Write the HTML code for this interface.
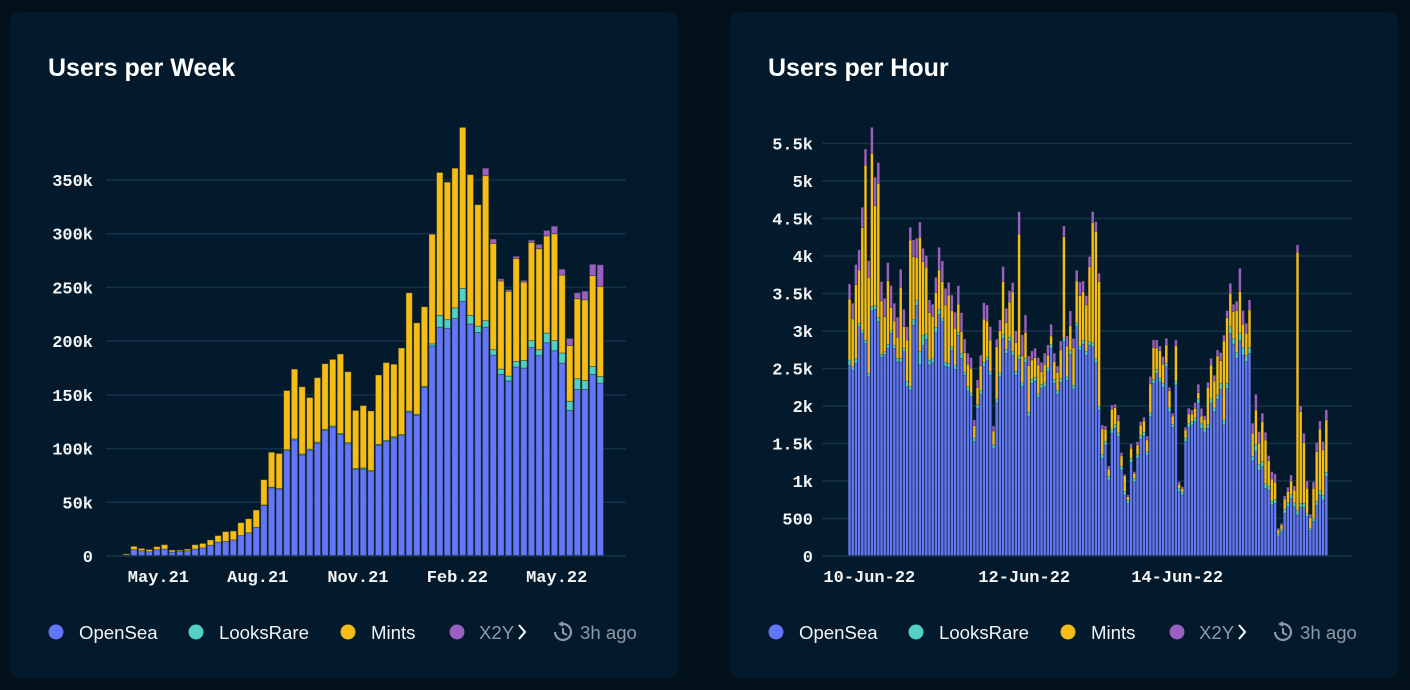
<!DOCTYPE html>
<html><head><meta charset="utf-8">
<style>
html,body{margin:0;padding:0;background:#03111b;width:1410px;height:690px;overflow:hidden;font-family:"Liberation Sans",sans-serif;}
svg text{font-family:"Liberation Sans",sans-serif;}
.tick{font-family:"Liberation Mono",monospace;font-weight:bold;font-size:17px;fill:#f2f4f6;}
.leg{font-size:18.6px;}
</style></head>
<body>
<svg id="root" width="1410" height="690">
  <rect x="10" y="12" width="668" height="666" rx="9" fill="#021a2b"/>
  <rect x="730" y="12" width="668" height="666" rx="9" fill="#021a2b"/>
  <text x="48" y="76" font-size="25" font-weight="bold" fill="#ffffff">Users per Week</text>
  <text x="768" y="76" font-size="25" font-weight="bold" fill="#ffffff">Users per Hour</text>
  <g id="leftChart"></g>
  <g id="rightChart"></g>

  <g>
    <g><circle cx="56" cy="632" r="7.5" fill="#6176f8"/><text class="leg" x="79" y="639" fill="#f2f4f6">OpenSea</text></g>
    <g><circle cx="196" cy="632" r="7.5" fill="#4fd1c5"/><text class="leg" x="219" y="639" fill="#f2f4f6">LooksRare</text></g>
    <g><circle cx="348" cy="632" r="7.5" fill="#f6bd16"/><text class="leg" x="371" y="639" fill="#f2f4f6">Mints</text></g>
    <g><circle cx="457" cy="632" r="7.5" fill="#9a5fc0"/><text class="leg" x="479" y="639" fill="#8e9aa6">X2Y</text></g>
    <path d="M519 625 L525 632 L519 639" stroke="#ffffff" stroke-width="2" fill="none"/>
    <g><path d="M563 624 A8 8 0 1 1 555 632" stroke="#8e9aa6" stroke-width="2.2" fill="none"/><path d="M558 624 L563 621 L563 627" fill="#8e9aa6"/><path d="M563 628 L563 633 L567 635" stroke="#8e9aa6" stroke-width="2" fill="none"/></g>
    <text class="leg" x="580" y="639" fill="#8e9aa6">3h ago</text>
  </g>
  <g>
    <g><circle cx="776" cy="632" r="7.5" fill="#6176f8"/><text class="leg" x="799" y="639" fill="#f2f4f6">OpenSea</text></g>
    <g><circle cx="916" cy="632" r="7.5" fill="#4fd1c5"/><text class="leg" x="939" y="639" fill="#f2f4f6">LooksRare</text></g>
    <g><circle cx="1068" cy="632" r="7.5" fill="#f6bd16"/><text class="leg" x="1091" y="639" fill="#f2f4f6">Mints</text></g>
    <g><circle cx="1177" cy="632" r="7.5" fill="#9a5fc0"/><text class="leg" x="1199" y="639" fill="#8e9aa6">X2Y</text></g>
    <path d="M1239 625 L1245 632 L1239 639" stroke="#ffffff" stroke-width="2" fill="none"/>
    <g><path d="M1283 624 A8 8 0 1 1 1275 632" stroke="#8e9aa6" stroke-width="2.2" fill="none"/><path d="M1278 624 L1283 621 L1283 627" fill="#8e9aa6"/><path d="M1283 628 L1283 633 L1287 635" stroke="#8e9aa6" stroke-width="2" fill="none"/></g>
    <text class="leg" x="1300" y="639" fill="#8e9aa6">3h ago</text>
  </g>
</svg>
<script>
// ---- Weekly chart data (thousands of users) ----
const weekOpenSea = [1,6,5,4,6,6.5,3.7,4.5,5,6.5,7.5,10,13,13.6,15,19,21.6,26.8,47,63.5,62.3,98,108,94,98.5,105,117,120,113,104.5,80.5,81,78.5,103,106.5,110,112,134,131,157,195.5,213,212,221,237,216,208,213,187,169,163,176,175,194,186.5,198.5,191,179.5,135.5,155,155,169,161];
const weekLooksRare = [0,0,0,0,0,0,0,0,0,0,0,0,0,0,0,0,0,0,0.5,0.5,0.5,1,1,1,1,1,1,1,1,1,1,1,1,1,1,1,1,1,1,1,2,11,8,10,12,8,6,6,5,5,4.5,5,7,6.5,5.5,9,9.5,9.5,8.5,10,8.5,7.5,6];
const weekMints = [1,3,2,2,2.7,4,1.8,1,1.5,4,4.2,5,6,9.1,8.3,12,13.1,16,23.5,32.6,32.6,55,65,62.5,48,60,61,62,74,66,54,58,55.5,64.5,72.5,67.5,80.6,110,85,74,102,133,128,130,150,131,113,135,99,82,79,96,73,91.5,94,90.5,99.5,72.5,52,74.5,75,84.5,84];
const weekX2Y2 = [0,0,0,0,0,0,0,0,0,0,0,0,0,0,0,0,0,0,0,0,0,0,0,0,0,0,0,0,0,0,0,0,0,0,0,0,0,0,0,0,0,0,0,0,0,0,0,7,4,2,1.5,2,1.5,2,4,5,7,5.5,6.5,5.5,8,10.5,20,20];
const weekTickValues = [0,50,100,150,200,250,300,350];
const weekTickLabels = ["0","50k","100k","150k","200k","250k","300k","350k"];
const weekXLabels = ["May.21","Aug.21","Nov.21","Feb.22","May.22"];
const weekXLabelIdx = [4.2,17.2,30.3,43.3,56.3];

// ---- Hourly chart data (users) ----
const hourOpenSea = [2546,2480,2569,3058,2969,2835,2391,3271,3289,3124,2649,2684,2769,2969,2769,2591,2582,2724,2258,2213,3080,3342,2546,2804,2893,2546,2578,2977,3222,3124,2533,2515,2746,2489,2946,2635,2413,2204,2124,1524,1969,2160,2533,2604,2413,1435,2044,2391,2902,2702,2866,2675,2413,2622,2258,2582,1866,2302,2333,2111,2235,2258,2458,2769,2302,2155,2315,2858,2338,2689,2226,3058,2746,2826,2680,2813,2791,2578,1946,1302,1480,1013,1635,1702,1591,1147,813,702,1249,991,1302,1555,1600,1338,1858,2302,2435,2324,2249,2524,1924,1715,2280,858,813,1524,1715,1747,1791,2035,1702,1644,1702,2035,1924,2089,2222,1747,2235,2969,2826,2635,2871,2680,2591,2702,1267,1391,1138,1191,902,880,680,702,267,324,569,658,769,658,547,644,644,524,338,458,680,813,747,1058];
const hourLooksRare = [67,44,58,44,36,44,44,53,53,53,40,40,53,36,44,44,53,44,71,44,76,71,178,142,67,67,58,67,67,44,53,53,44,58,31,67,40,53,50,50,50,50,50,50,50,50,50,50,50,50,50,50,50,50,50,50,50,50,50,50,50,50,50,50,50,50,50,50,50,50,50,50,50,50,50,50,50,50,50,50,50,50,50,50,50,50,50,40,50,40,50,50,50,50,50,50,50,50,50,50,50,40,50,40,40,50,50,50,50,60,60,50,50,60,50,60,80,60,70,90,70,80,100,100,80,80,60,100,80,70,60,50,50,50,30,30,50,50,50,50,60,60,60,40,30,40,50,60,60,60];
const hourMints = [813,636,991,711,1373,2333,1280,2044,1329,1791,711,467,849,307,320,280,947,289,551,1955,835,564,1524,978,889,631,556,467,524,489,760,911,480,489,382,289,258,302,328,163,226,328,577,479,417,181,697,563,706,359,470,799,381,1617,359,350,621,261,261,386,172,248,168,114,239,243,381,1350,412,332,501,559,674,648,617,994,1603,1697,1661,341,159,97,270,226,163,137,208,49,137,71,128,141,150,159,386,426,288,363,257,239,230,111,474,58,49,106,128,97,128,82,104,128,492,451,359,518,302,1060,872,443,361,556,553,309,298,498,309,456,284,530,584,341,297,230,50,59,141,150,181,172,3442,1220,807,338,143,404,661,820,607,696];
const hourX2Y2 = [200,209,267,267,271,213,222,347,378,276,258,244,240,293,236,267,240,231,178,169,222,258,204,178,156,169,164,204,302,276,222,169,209,213,244,253,182,142,142,76,102,138,218,213,178,67,98,142,200,191,151,120,156,302,280,231,129,120,124,98,124,147,138,156,111,84,120,142,133,196,124,142,182,142,124,133,147,133,111,53,44,40,58,44,76,44,18,22,58,22,44,44,49,53,98,102,107,62,102,89,44,36,76,36,22,36,76,53,76,111,102,49,71,89,76,80,107,76,93,133,98,124,311,182,133,133,133,209,156,111,102,67,98,111,22,22,40,58,80,53,98,76,124,98,44,89,124,107,111,133];
const hourTickValues = [0,500,1000,1500,2000,2500,3000,3500,4000,4500,5000,5500];
const hourTickLabels = ["0","500","1k","1.5k","2k","2.5k","3k","3.5k","4k","4.5k","5k","5.5k"];
const hourXLabels = ["10-Jun-22","12-Jun-22","14-Jun-22"];
const hourXLabelIdx = [6.2,54.6,102.4];

const COLORS = ["#6176f8","#4fd1c5","#f6bd16","#9a5fc0"];
const NS = "http://www.w3.org/2000/svg";
function mk(tag, attrs, parent){
  const e = document.createElementNS(NS, tag);
  for (const k in attrs) e.setAttribute(k, attrs[k]);
  parent.appendChild(e);
  return e;
}

function drawChart(g, cfg){
  const yScale = v => cfg.y0 - v * cfg.yPer;
  const xScale = i => cfg.x0 + i * cfg.pitch;
  cfg.tickValues.forEach((v, k) => {
    const y = yScale(v);
    const line = mk("line", {x1: cfg.gx1, x2: cfg.gx2, y1: y, y2: y, stroke: "#143249", "stroke-width": 1.5}, g);
    
    
    const t = mk("text", {x: cfg.labelX, y: y + 6, "text-anchor": "end", "class": "tick"}, g);
    t.textContent = cfg.tickLabels[k];
    
    
  });
  const series = cfg.series;
  const n = series[0].length;
  for (let i = 0; i < n; i++) {
    let acc = 0;
    const cx = xScale(i);
    for (let s = 0; s < series.length; s++) {
      const v = series[s][i];
      if (!v) continue;
      const yTop = yScale(acc + v), yBot = yScale(acc);
      const r = mk("rect", {x: cx - cfg.bw / 2, y: yTop, width: cfg.bw, height: Math.max(0.5, yBot - yTop), fill: COLORS[s], stroke: "rgba(40,50,40,0.55)", "stroke-width": cfg.sw}, g);
      
      
      acc += v;
    }
  }
  const base = mk("line", {x1: cfg.gx1, x2: cfg.gx2, y1: cfg.y0, y2: cfg.y0, stroke: "#143249", "stroke-width": 1.5}, g);
  
  
  cfg.xLabels.forEach((lab, k) => {
    const t = mk("text", {x: xScale(cfg.xLabelIdx[k]), y: 582, "text-anchor": "middle", "class": "tick"}, g);
    t.textContent = lab;
    
    
  });
}

drawChart(document.getElementById("leftChart"), {
  y0: 556, yPer: 376 / 350, x0: 126.3, pitch: 7.645, bw: 6.3, sw: 0.8,
  gx1: 106, gx2: 626, labelX: 93,
  tickValues: weekTickValues, tickLabels: weekTickLabels,
  xLabels: weekXLabels, xLabelIdx: weekXLabelIdx,
  series: [weekOpenSea, weekLooksRare, weekMints, weekX2Y2]
});
drawChart(document.getElementById("rightChart"), {
  y0: 556, yPer: 0.075, x0: 849.5, pitch: 3.2, bw: 2.6, sw: 0.4,
  gx1: 822, gx2: 1352, labelX: 813,
  tickValues: hourTickValues, tickLabels: hourTickLabels,
  xLabels: hourXLabels, xLabelIdx: hourXLabelIdx,
  series: [hourOpenSea, hourLooksRare, hourMints, hourX2Y2]
});
</script>
</body></html>
